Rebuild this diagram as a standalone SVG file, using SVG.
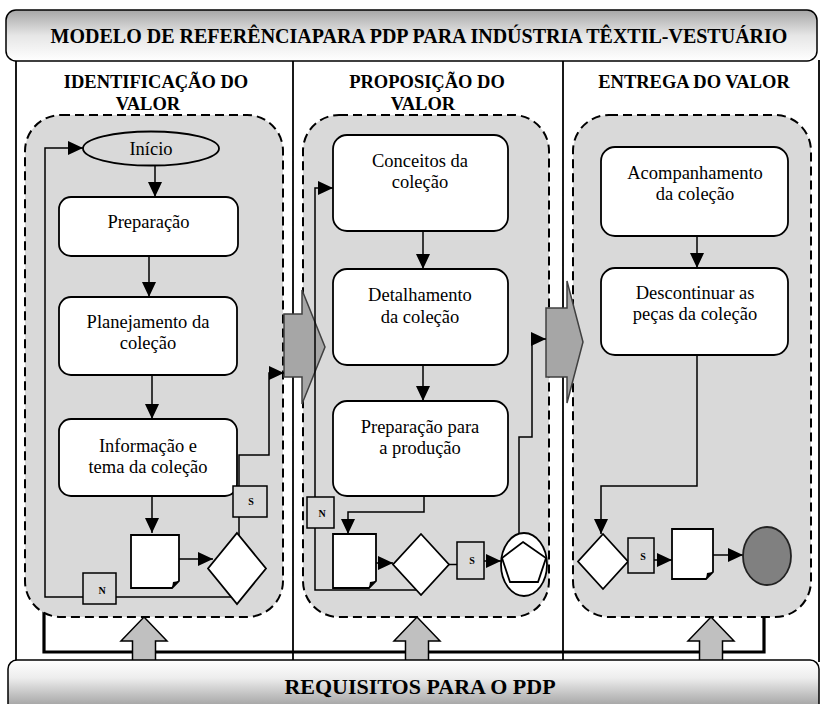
<svg xmlns="http://www.w3.org/2000/svg" width="821" height="704" viewBox="0 0 821 704" font-family="'Liberation Serif', 'DejaVu Serif', serif">
<defs>
  <linearGradient id="gTitle" x1="0" y1="0" x2="0" y2="1">
    <stop offset="0" stop-color="#a6a6a6"/>
    <stop offset="0.5" stop-color="#e6e6e6"/>
    <stop offset="1" stop-color="#ffffff"/>
  </linearGradient>
  <linearGradient id="gReq" x1="0" y1="0" x2="0" y2="1">
    <stop offset="0" stop-color="#ffffff"/>
    <stop offset="0.3" stop-color="#ededed"/>
    <stop offset="1" stop-color="#7f7f7f"/>
  </linearGradient>
  <marker id="ah" markerUnits="userSpaceOnUse" markerWidth="15" markerHeight="14" refX="15" refY="7" orient="auto" viewBox="0 0 15 14">
    <path d="M0,0 L15,7 L0,14 z" fill="#000"/>
  </marker>
  <style>
    text{font-family:'Liberation Serif','DejaVu Serif',serif}
    .hdr{font-weight:bold;fill:#000;text-anchor:middle}
    .lbl{font-size:18.5px;fill:#000;text-anchor:middle}
    .tag{font-size:10px;font-weight:bold;fill:#000;text-anchor:middle}
    .frame{fill:none;stroke:#000;stroke-width:1.8}
    .cont{fill:#d9d9d9;stroke:#000;stroke-width:2;stroke-dasharray:9 5}
    .box{fill:#fff;stroke:#000;stroke-width:1.8}
    .tagbox{fill:#d9d9d9;stroke:#000;stroke-width:1.5}
    .conn{fill:none;stroke:#000;stroke-width:1.5}
    .arr{marker-end:url(#ah)}
    .big{fill:#a6a6a6;stroke:#404040;stroke-width:1.5}
    .up{fill:#c0c0c0;stroke:#000;stroke-width:1.5}
    .fold{fill:#000}
  </style>
</defs>

<!-- frame -->
<g id="frame">
  <line class="frame" x1="16" y1="60" x2="16" y2="662"/>
  <line class="frame" x1="293" y1="60" x2="293" y2="662"/>
  <line class="frame" x1="563" y1="60" x2="563" y2="662"/>
  <line class="frame" x1="819" y1="60" x2="819" y2="662"/>
  <polyline points="44,608 44,652 764,652 764,617" fill="none" stroke="#000" stroke-width="3.2"/>
</g>

<g id="title">
  <rect x="6" y="10" width="811" height="51" rx="10" fill="url(#gTitle)" stroke="#000" stroke-width="1.5"/>
  <text class="hdr" x="419" y="43" font-size="20">MODELO DE REFERÊNCIAPARA PDP PARA INDÚSTRIA TÊXTIL-VESTUÁRIO</text>
</g>

<g id="headers">
  <text class="hdr" x="156" y="88" font-size="18.5">IDENTIFICAÇÃO DO</text>
  <text class="hdr" x="148" y="110" font-size="18.5">VALOR</text>
  <text class="hdr" x="427" y="88" font-size="18.5">PROPOSIÇÃO DO</text>
  <text class="hdr" x="423" y="110" font-size="18.5">VALOR</text>
  <text class="hdr" x="694" y="88" font-size="18.5">ENTREGA DO VALOR</text>
</g>

<!-- containers -->
<g id="containers">
  <rect class="cont" x="25" y="115" width="258" height="502" rx="36"/>
  <rect class="cont" x="303" y="115" width="246" height="502" rx="36"/>
  <rect class="cont" x="573" y="115" width="238" height="502" rx="36"/>
</g>

<!-- up arrows from requirements -->
<g id="req-arrows">
  <polygon class="up" points="144,617 167,641 155.5,641 155.5,662 132.5,662 132.5,641 121,641"/>
  <polygon class="up" points="417,617 440,641 428.5,641 428.5,662 405.5,662 405.5,641 394,641"/>
  <polygon class="up" points="711,617 734,641 722.5,641 722.5,662 699.5,662 699.5,641 688,641"/>
</g>

<g id="requisitos">
  <rect x="8" y="660" width="811" height="60" rx="9" fill="url(#gReq)" stroke="#000" stroke-width="1.5"/>
  <text class="hdr" x="420" y="694" font-size="22">REQUISITOS PARA O PDP</text>
</g>

<!-- phase arrows -->
<g id="phase-arrows">
  <polygon class="big" points="284,314 302,314 302,290 325,347 302,404 302,377 284,377"/>
  <polygon class="big" points="546,308 567,308 567,281 583,342 567,403 567,377 546,377"/>
</g>

<!-- connectors -->
<g id="connectors">
  <path class="conn arr" d="M155,166 V197"/>
  <path class="conn arr" d="M149,256 V297"/>
  <path class="conn arr" d="M152,375 V419"/>
  <path class="conn arr" d="M152,496 V533"/>
  <path class="conn arr" d="M179,559 H213"/>
  <path class="conn arr" d="M239,536 V455 H269 V373 H284"/>
  <path class="conn arr" d="M231,597 H45 V148 H83"/>

  <path class="conn arr" d="M423,231 V269"/>
  <path class="conn arr" d="M423,365 V401"/>
  <path class="conn arr" d="M424,496 V512 H348 V534"/>
  <path class="conn arr" d="M376,563 H393"/>
  <path class="conn" d="M449,564.5 H457"/>
  <path class="conn arr" d="M484,561 H501"/>
  <path class="conn arr" d="M519,534 V437 H532 V339 H546"/>
  <path class="conn arr" d="M416,590 H315 V188 H333"/>

  <path class="conn arr" d="M697,236 V268"/>
  <path class="conn arr" d="M697,355 V486 H601 V534"/>
  <path class="conn arr" d="M654,560 H672"/>
  <path class="conn arr" d="M713,555 H743"/>
</g>

<!-- column 1 nodes -->
<g id="inicio">
  <ellipse cx="151" cy="148.5" rx="68" ry="17" fill="#d9d9d9" stroke="#000" stroke-width="1.8"/>
  <text class="lbl" x="151" y="154.5">Início</text>
</g>
<g id="preparacao">
  <rect class="box" x="59" y="197" width="179" height="59" rx="12"/>
  <text class="lbl" x="148.5" y="228">Preparação</text>
</g>
<g id="planejamento">
  <rect class="box" x="59" y="297" width="178" height="78" rx="12"/>
  <text class="lbl" x="148" y="328">Planejamento da</text>
  <text class="lbl" x="148" y="349">coleção</text>
</g>
<g id="informacao">
  <rect class="box" x="59" y="419" width="178" height="77" rx="12"/>
  <text class="lbl" x="148" y="452">Informação e</text>
  <text class="lbl" x="148" y="473">tema da coleção</text>
</g>
<g id="doc1">
  <path class="box" d="M131,535 H179 V581 L172,588 H131 Z"/>
  <path class="fold" d="M179,581 L172,588 L173,582 Z"/>
</g>
<g id="decisao1">
  <polygon class="box" points="237,533 266,568.5 237,604 208,568.5"/>
</g>
<g id="s1">
  <rect class="tagbox" x="233" y="486" width="34" height="31"/>
  <text class="tag" x="251" y="505">S</text>
</g>
<g id="n1">
  <rect class="tagbox" x="83" y="573" width="33" height="31"/>
  <text class="tag" x="102" y="594">N</text>
</g>

<!-- column 2 nodes -->
<g id="conceitos">
  <rect class="box" x="333" y="135" width="175" height="96" rx="14"/>
  <text class="lbl" x="420" y="167">Conceitos da</text>
  <text class="lbl" x="420" y="188">coleção</text>
</g>
<g id="detalhamento">
  <rect class="box" x="333" y="269" width="175" height="96" rx="14"/>
  <text class="lbl" x="420" y="301">Detalhamento</text>
  <text class="lbl" x="420" y="323">da coleção</text>
</g>
<g id="preparacao-producao">
  <rect class="box" x="333" y="401" width="175" height="95" rx="14"/>
  <text class="lbl" x="420" y="433">Preparação para</text>
  <text class="lbl" x="420" y="454">a produção</text>
</g>
<g id="doc2">
  <path class="box" d="M333,534 H376 V581 L369,588 H333 Z"/>
  <path class="fold" d="M376,581 L369,588 L370,582 Z"/>
</g>
<g id="decisao2">
  <polygon class="box" points="421,534 449,564.5 421,595 393,564.5"/>
</g>
<g id="s2">
  <rect class="tagbox" x="457" y="542" width="27" height="37"/>
  <text class="tag" x="472" y="564">S</text>
</g>
<g id="n2">
  <rect class="tagbox" x="307" y="497" width="27" height="31"/>
  <text class="tag" x="322" y="517">N</text>
</g>
<g id="conector-pentagono">
  <ellipse cx="524" cy="564.5" rx="23" ry="31.5" fill="#fff" stroke="#000" stroke-width="1.8"/>
  <polygon points="523,542 546,558 538,582 510,582 502,558" fill="#fff" stroke="#000" stroke-width="1.8"/>
</g>

<!-- column 3 nodes -->
<g id="acompanhamento">
  <rect class="box" x="601" y="147" width="187" height="89" rx="14"/>
  <text class="lbl" x="695" y="179">Acompanhamento</text>
  <text class="lbl" x="695" y="200">da coleção</text>
</g>
<g id="descontinuar">
  <rect class="box" x="601" y="268" width="187" height="87" rx="14"/>
  <text class="lbl" x="695" y="299">Descontinuar as</text>
  <text class="lbl" x="695" y="320">peças da coleção</text>
</g>
<g id="decisao3">
  <polygon class="box" points="603,534 628,561.5 603,589 578,561.5"/>
</g>
<g id="s3">
  <rect class="tagbox" x="628" y="538" width="26" height="35"/>
  <text class="tag" x="643" y="560">S</text>
</g>
<g id="doc3">
  <path class="box" d="M672,529 H713 V572 L706,579 H672 Z"/>
  <path class="fold" d="M713,572 L706,579 L707,573 Z"/>
</g>
<g id="fim">
  <ellipse cx="767" cy="556" rx="24" ry="29" fill="#808080" stroke="#222" stroke-width="1.8"/>
</g>
</svg>
